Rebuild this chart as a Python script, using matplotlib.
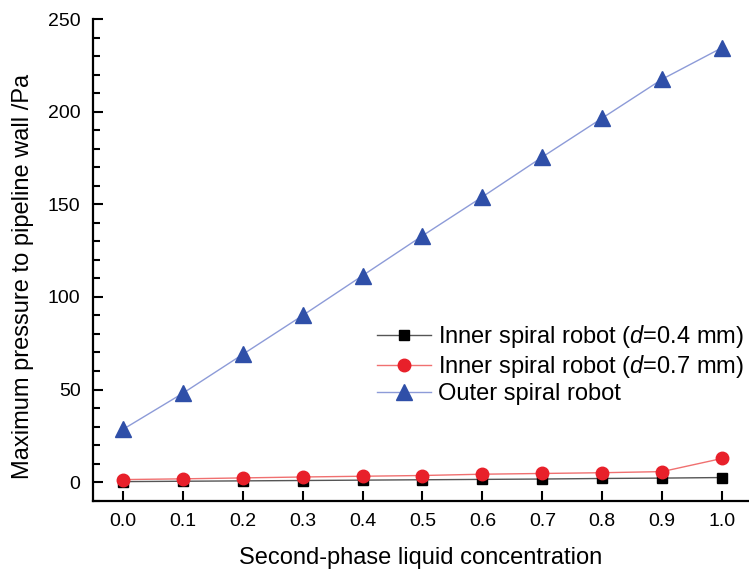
import matplotlib
matplotlib.use("Agg")
import matplotlib.pyplot as plt
from matplotlib.ticker import MultipleLocator, FormatStrFormatter

plt.rcParams['font.family'] = ['Liberation Sans', 'DejaVu Sans']
plt.rcParams['mathtext.fontset'] = 'custom'
plt.rcParams['mathtext.it'] = 'Liberation Sans:italic'
plt.rcParams['mathtext.rm'] = 'Liberation Sans'

concentration = [0.0, 0.1, 0.2, 0.3, 0.4, 0.5, 0.6, 0.7, 0.8, 0.9, 1.0]
inner_d04 = [0.3, 0.5, 0.7, 0.9, 1.1, 1.3, 1.5, 1.7, 2.0, 2.2, 2.5]
inner_d07 = [1.4, 1.8, 2.3, 2.8, 3.2, 3.6, 4.3, 4.7, 5.1, 5.7, 12.8]
outer = [28.5, 48.0, 69.0, 90.0, 111.5, 133.0, 154.0, 175.5, 196.5, 217.5, 234.5]

labels = ["Inner spiral robot ($d$=0.4 mm)",
          "Inner spiral robot ($d$=0.7 mm)",
          "Outer spiral robot"]

fig = plt.figure(figsize=(7.49, 5.72), dpi=100)
ax = fig.add_axes([93/749, 1 - 500.7/572, (749 - 93)/749, (500.7 - 19)/572])

ax.plot(concentration, inner_d04, color='#555555', lw=1.0, marker='s', ms=7,
        mfc='black', mec='black', label=labels[0])
ax.plot(concentration, inner_d07, color='#f07070', lw=1.0, marker='o', ms=9,
        mfc='#e8202a', mec='#e8202a', label=labels[1])
ax.plot(concentration, outer, color='#8d9bd8', lw=1.0, marker='^', ms=11,
        mfc='#2f4fa8', mec='#2f4fa8', label=labels[2])

ax.set_xlim(-0.05, 1.045)
ax.set_ylim(-10, 250)
ax.xaxis.set_major_locator(MultipleLocator(0.1))
ax.yaxis.set_major_locator(MultipleLocator(50))
ax.yaxis.set_minor_locator(MultipleLocator(10))
ax.xaxis.set_major_formatter(FormatStrFormatter('%.1f'))

for s in ['top', 'right']:
    ax.spines[s].set_visible(False)
for s in ['left', 'bottom']:
    ax.spines[s].set_linewidth(1.6)

ax.tick_params(which='major', direction='in', length=7.5, width=1.5, labelsize=14, pad=9)
ax.tick_params(which='minor', direction='in', length=5, width=1.5)

ax.set_xlabel("Second-phase liquid concentration", fontsize=17, labelpad=12)
ax.set_ylabel("Maximum pressure to pipeline wall /Pa", fontsize=17)
ax.yaxis.set_label_coords(-0.09, 0.466)

ax.legend(loc='center left', bbox_to_anchor=(377/749, 1 - 364/572),
          bbox_transform=fig.transFigure, frameon=False, fontsize=17,
          handlelength=2.3, handletextpad=0.3, labelspacing=0.12,
          borderaxespad=0, borderpad=0)

fig.savefig("out.png", dpi=100)
